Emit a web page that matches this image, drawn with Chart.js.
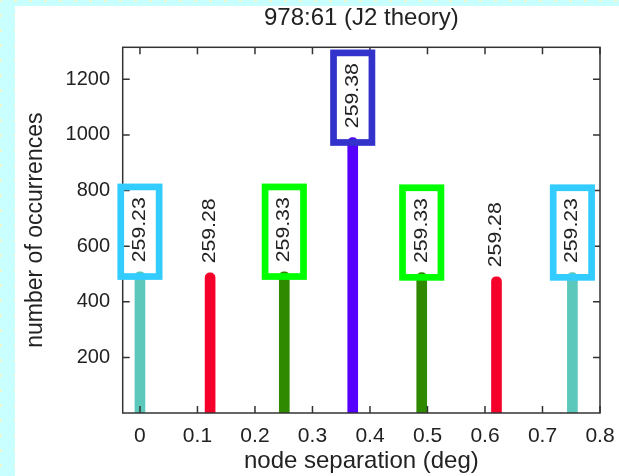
<!DOCTYPE html>
<html>
<head>
<meta charset="utf-8">
<title>978:61 (J2 theory)</title>
<script src="https://cdn.jsdelivr.net/npm/chart.js"></script>
<style>
  html, body { margin: 0; padding: 0; }
  body {
    width: 619px; height: 476px; overflow: hidden; position: relative;
    background-color: #c9ffff;
    background-image: radial-gradient(circle, #f2f7c8 1px, transparent 1.8px);
    background-size: 15px 15px;
    background-position: -7px -7px;
  }
  #panel { position: absolute; left: 15px; top: 6px; width: 604px; height: 470px; background: #fff; }
</style>
</head>
<body>
<div id="panel"><canvas id="grafico" width="604" height="470"></canvas></div>
<script>
// node separation (deg) of each peak and how often it occurs
const separations = [0, 0.122, 0.251, 0.370, 0.490, 0.620, 0.752];
const occurrences = [508, 504, 508, 990, 505, 490, 505];
const periodLabels = ['259.23', '259.28', '259.33', '259.38', '259.33', '259.28', '259.23'];
const barColors = ['#5bc8bb', '#f5002a', '#2f8a00', '#5500ff', '#2f8a00', '#f5002a', '#5bc8bb'];
const boxColors = ['#33ccff', null, '#00ff00', '#3333cc', '#00ff00', null, '#33ccff'];
const xTicks = [0, 0.1, 0.2, 0.3, 0.4, 0.5, 0.6, 0.7, 0.8];
const yTicks = [200, 400, 600, 800, 1000, 1200];

const FONT = "'Liberation Sans', Arial, Helvetica, sans-serif";
const INK = '#222';
Chart.defaults.font.family = FONT;
Chart.defaults.color = INK;

// gnuplot style frame with inward ticks on all four sides
const framePlugin = {
  id: 'frame',
  afterDatasetsDraw(chart) {
    const { ctx, chartArea: a, scales } = chart;
    ctx.save();
    ctx.strokeStyle = '#333';
    ctx.lineWidth = 1.5;
    ctx.strokeRect(a.left, a.top, a.right - a.left, a.bottom - a.top);
    ctx.beginPath();
    xTicks.forEach(v => {
      const px = scales.x.getPixelForValue(v);
      ctx.moveTo(px, a.bottom); ctx.lineTo(px, a.bottom - 7);
      ctx.moveTo(px, a.top); ctx.lineTo(px, a.top + 7);
    });
    yTicks.forEach(v => {
      const py = scales.y.getPixelForValue(v);
      ctx.moveTo(a.left, py); ctx.lineTo(a.left + 7, py);
      ctx.moveTo(a.right, py); ctx.lineTo(a.right - 7, py);
    });
    ctx.stroke();
    ctx.restore();
  }
};

// rotated period label over each bar, some of them boxed
const labelPlugin = {
  id: 'periodLabels',
  afterDatasetsDraw(chart) {
    const ctx = chart.ctx;
    const meta = chart.getDatasetMeta(0);
    meta.data.forEach((bar, i) => {
      const cx = bar.x;
      const cy = bar.y - 42;
      ctx.save();
      if (boxColors[i]) {
        ctx.strokeStyle = boxColors[i];
        ctx.lineWidth = 6.7;
        ctx.strokeRect(cx - 19.2, cy + 2 - 44.8, 38.4, 89.6);
      }
      ctx.translate(cx, cy);
      ctx.rotate(-Math.PI / 2);
      ctx.scale(1.2, 1);
      ctx.fillStyle = INK;
      ctx.font = '17.7px ' + FONT;
      ctx.textAlign = 'center';
      ctx.textBaseline = 'middle';
      ctx.fillText(periodLabels[i], 0, 0);
      ctx.restore();
    });
  }
};

const ctx = document.getElementById('grafico').getContext('2d');
new Chart(ctx, {
  type: 'bar',
  data: {
    datasets: [{
      data: separations.map((x, i) => ({ x: x, y: occurrences[i] })),
      backgroundColor: barColors,
      barThickness: 10,
      borderRadius: 5,
      borderSkipped: 'start'
    }]
  },
  options: {
    responsive: false,
    animation: false,
    layout: { padding: { top: 0, right: 19, bottom: 0, left: 0 } },
    plugins: {
      legend: { display: false },
      tooltip: { enabled: false },
      title: {
        display: true,
        text: '978:61 (J2 theory)',
        fullSize: false,
        color: INK,
        font: { size: 24, weight: 'normal', lineHeight: 1 },
        padding: { top: 0, bottom: 17.3 }
      }
    },
    scales: {
      x: {
        type: 'linear',
        min: -0.03,
        max: 0.8,
        offset: false,
        grid: { display: false, drawTicks: false },
        border: { display: false },
        afterBuildTicks: s => { s.ticks = xTicks.map(v => ({ value: v })); },
        afterFit: s => { s.height = 63; s.paddingLeft = 0; s.paddingRight = 0; },
        ticks: {
          padding: 11,
          color: INK,
          font: { size: 21 },
          callback: (v, i) => String(xTicks[i])
        },
        title: {
          display: true,
          text: 'node separation (deg)',
          color: INK,
          font: { size: 24 },
          padding: { top: 0, bottom: 0 }
        }
      },
      y: {
        min: 0,
        max: 1315,
        grid: { display: false, drawTicks: false },
        border: { display: false },
        afterBuildTicks: s => { s.ticks = yTicks.map(v => ({ value: v })); },
        afterFit: s => { s.width = 107.7; },
        ticks: {
          padding: 12.7,
          color: INK,
          font: { size: 20 },
          callback: (v, i) => String(yTicks[i])
        },
        title: {
          display: true,
          text: 'number of occurrences',
          color: INK,
          font: { size: 23 },
          padding: { top: 7, bottom: 0 }
        }
      }
    }
  },
  plugins: [framePlugin, labelPlugin]
});
</script>
</body>
</html>
